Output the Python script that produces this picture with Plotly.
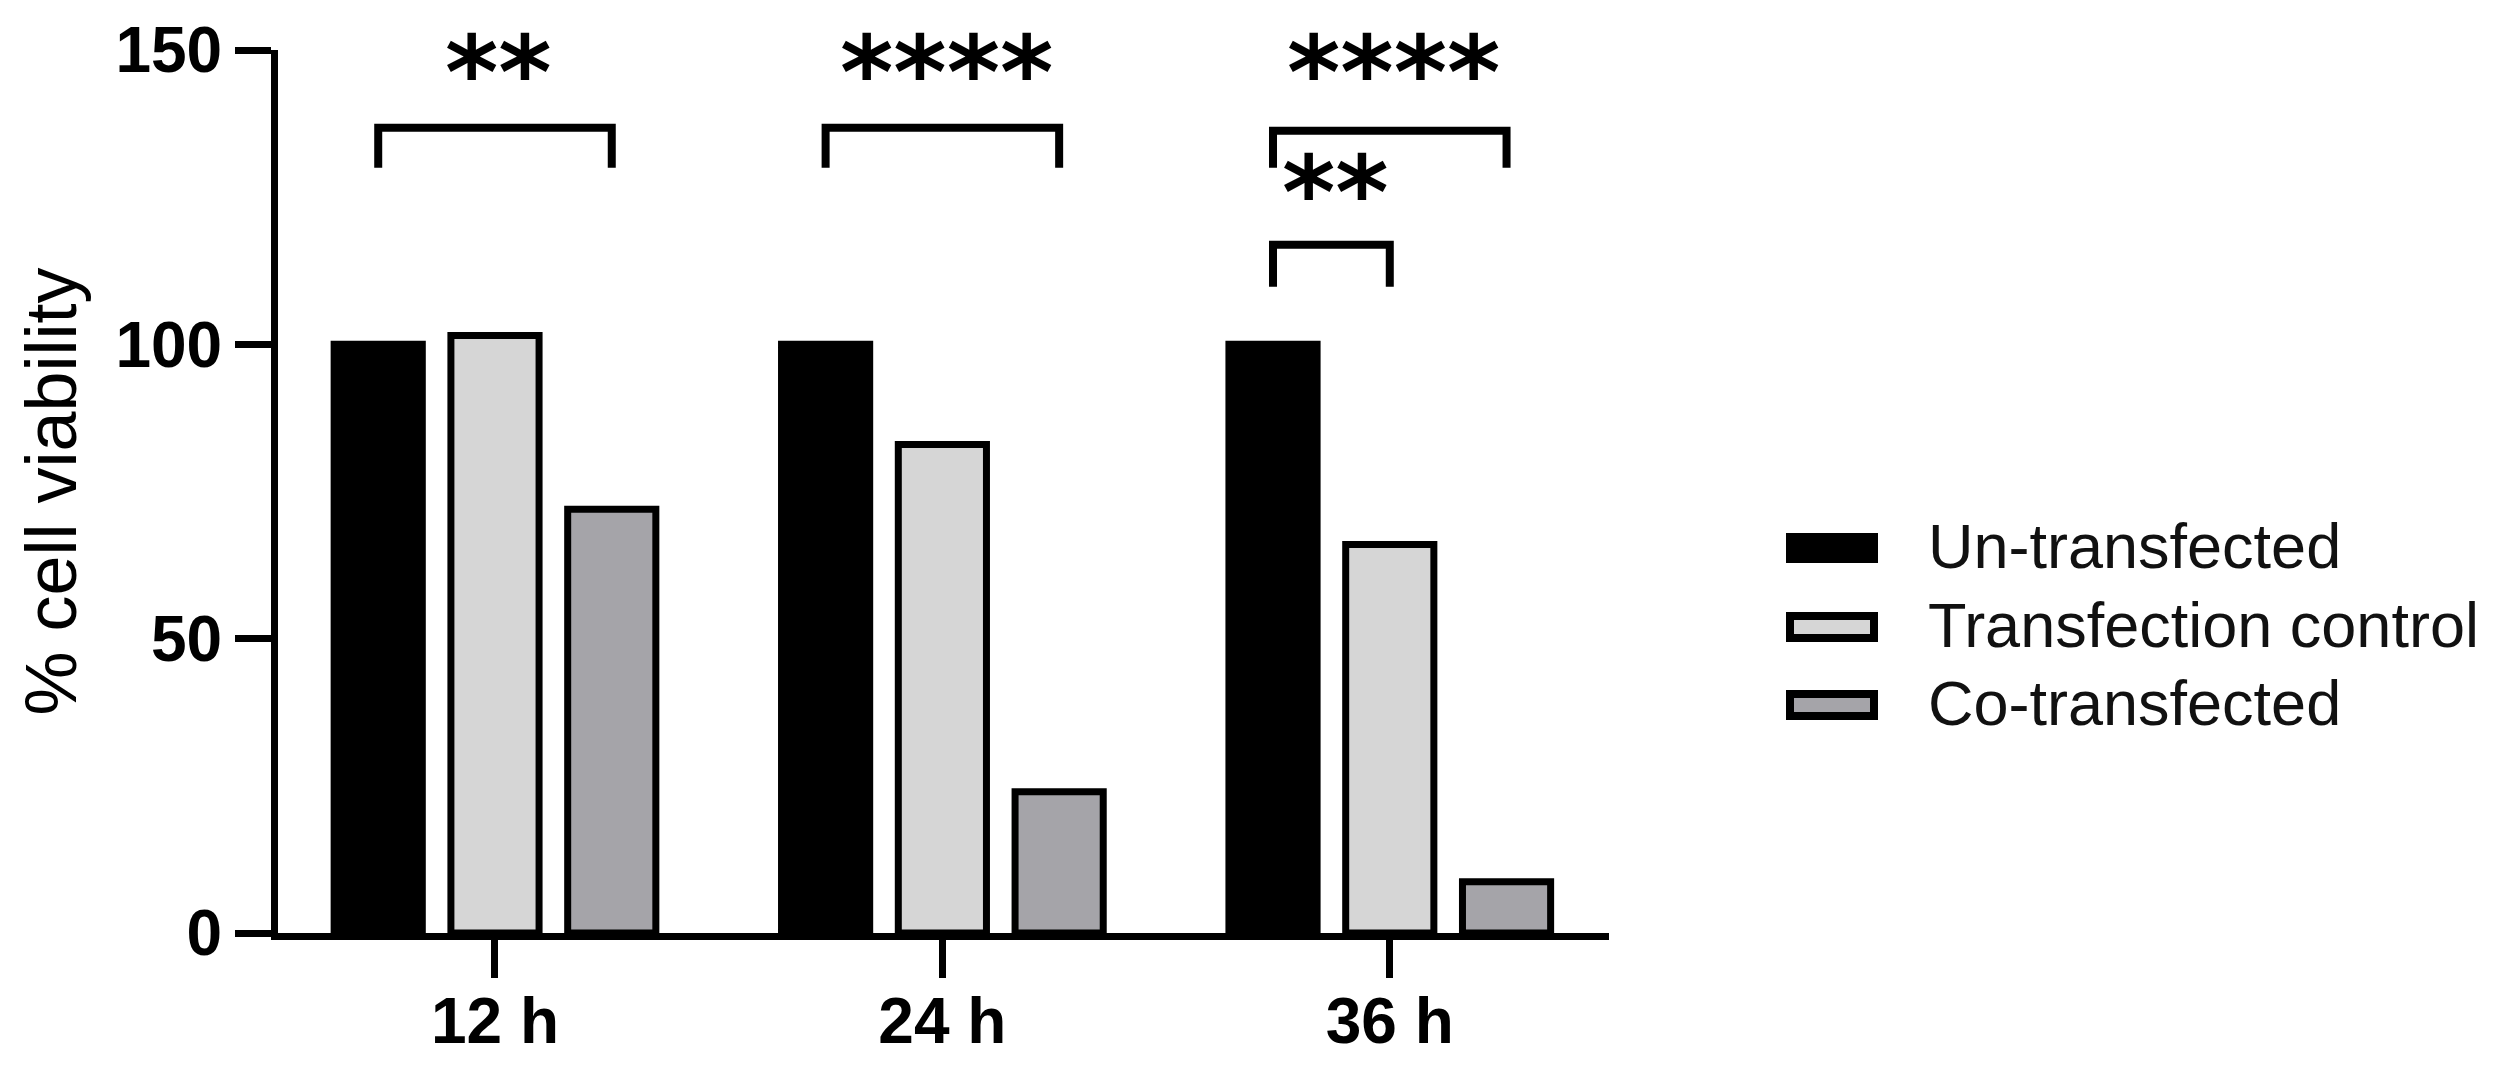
import plotly.graph_objects as go

# ---------------- data ----------------
categories = ["12 h", "24 h", "36 h"]
series_names = ["Un-transfected", "Transfection control", "Co-transfected"]
untransfected = [100, 100, 100]
transfection_control = [101.5, 83, 66]
co_transfected = [72, 24, 8.7]
y_tick_values = [0, 50, 100, 150]

# significance brackets
sig_category = [0, 1, 2, 2]
sig_bar_a = [0, 0, 0, 0]
sig_bar_b = [2, 2, 2, 1]
sig_top = [136.8, 136.8, 136.3, 116.9]
sig_leg = [130.0, 130.0, 130.0, 109.8]
sig_text = ["**", "****", "****", "**"]
sig_text_y = [148.3, 148.3, 148.3, 127.9]

# ---------------- style ----------------
colors = ["#000000", "#d6d6d6", "#a5a4a9"]
FONT = "Arial, 'Liberation Sans', sans-serif"
STAR_FONT = "'DejaVu Sans', sans-serif"
W, H = 2510, 1070
L, R, T, B = 278, 1609, 50, 933
BARGAP = 0.217
GROUPGAP = 0.245
SLOT = (1 - BARGAP) / 3
LW = 7
STAR_SIZE = 102


def px_x(px):
    return (px - L) / (R - L)


def px_y(py):
    return (B - py) / (B - T)


fig = go.Figure()
series_values = [untransfected, transfection_control, co_transfected]
for name, vals, col in zip(series_names, series_values, colors):
    fig.add_trace(go.Bar(
        x=categories, y=vals, name=name,
        marker=dict(color=col, line=dict(color="#000000", width=LW)),
        showlegend=False,
    ))

shapes = []
annotations = []

# significance brackets + stars
for c, a, b, top, leg, txt, ty in zip(sig_category, sig_bar_a, sig_bar_b,
                                      sig_top, sig_leg, sig_text, sig_text_y):
    xa = c + (a - 1) * SLOT
    xb = c + (b - 1) * SLOT
    shapes.append(dict(
        type="path", xref="x", yref="y",
        path=f"M {xa},{leg} L {xa},{top} L {xb},{top} L {xb},{leg}",
        line=dict(color="#000000", width=8),
    ))
    annotations.append(dict(
        x=(xa + xb) / 2, y=ty, xref="x", yref="y",
        text=txt, showarrow=False, xshift=4, yshift=-12,
        font=dict(family=STAR_FONT, size=STAR_SIZE, color="#000000",
                  weight="bold"),
        xanchor="center", yanchor="middle", borderpad=0,
    ))

# manual legend
leg_centers = [548, 627, 705]
for name, col, cy in zip(series_names, colors, leg_centers):
    shapes.append(dict(
        type="rect", xref="paper", yref="paper",
        x0=px_x(1790), x1=px_x(1874), y0=px_y(cy + 11), y1=px_y(cy - 11),
        fillcolor=col, line=dict(color="#000000", width=8),
    ))
    annotations.append(dict(
        x=px_x(1926), y=px_y(cy - 2), xref="paper", yref="paper",
        text=name, showarrow=False, xanchor="left", yanchor="middle",
        font=dict(family=FONT, size=63, color="#111111"),
    ))

fig.update_layout(
    width=W, height=H,
    margin=dict(l=L, r=W - R, t=T, b=H - B, autoexpand=False),
    plot_bgcolor="white", paper_bgcolor="white",
    barmode="group", bargap=BARGAP, bargroupgap=GROUPGAP,
    shapes=shapes, annotations=annotations,
    showlegend=False,
)
fig.update_xaxes(
    type="category", range=[-0.485, 2.49], automargin=False,
    showline=True, linecolor="#000000", linewidth=LW,
    ticks="outside", ticklen=38, tickwidth=LW, tickcolor="#000000",
    ticklabelstandoff=-12,
    tickfont=dict(family=FONT, size=64, color="#000000", weight="bold"),
    showgrid=False, zeroline=False,
)
fig.update_yaxes(
    range=[0, 150], tickvals=y_tick_values, automargin=False,
    showline=True, linecolor="#000000", linewidth=LW,
    ticks="outside", ticklen=36, tickwidth=LW, tickcolor="#000000",
    tickfont=dict(family=FONT, size=64, color="#000000", weight="bold"),
    showgrid=False, zeroline=False,
    title=dict(text="% cell viability", standoff=18,
               font=dict(family=FONT, size=72, color="#000000")),
)

fig.write_html(
    "out.html",
    config={"displayModeBar": False},
    post_script="document.body.style.margin='0';document.body.style.padding='0';",
)
